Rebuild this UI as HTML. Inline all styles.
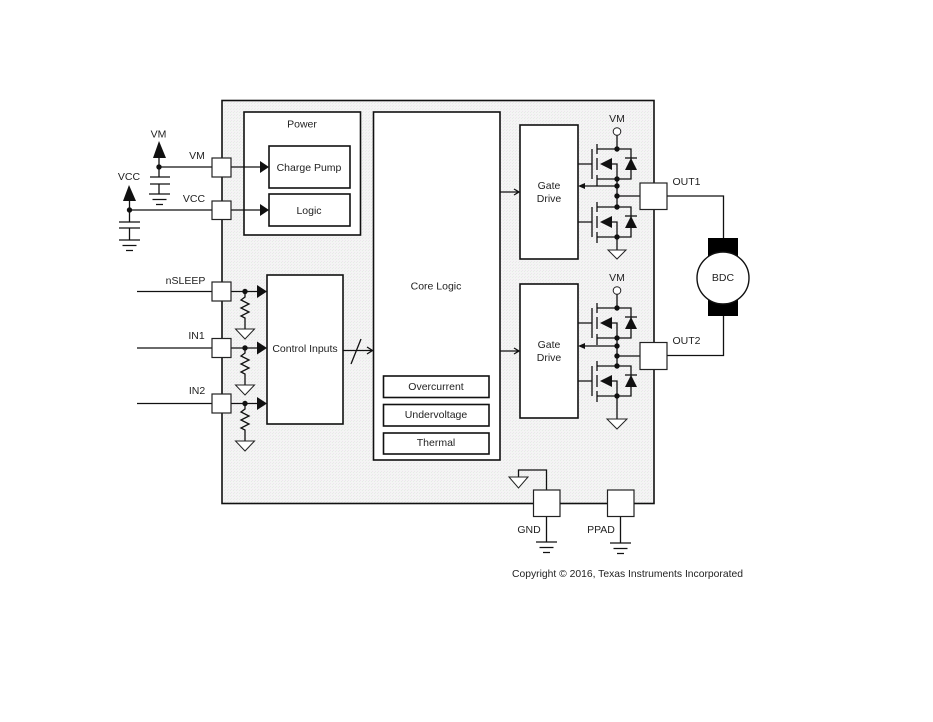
<!DOCTYPE html>
<html><head><meta charset="utf-8"><style>
html,body{margin:0;padding:0;background:#fff}
svg{display:block}
text{font-family:"Liberation Sans",sans-serif;font-size:10.5px;fill:#222;text-anchor:middle}
.l{fill:none;stroke:#111;stroke-width:1.3}
.b{fill:#fff;stroke:#111;stroke-width:1.6}
.p{fill:#fff;stroke:#222;stroke-width:1.2}
.t{fill:#fff;stroke:#222;stroke-width:1}
</style></head><body>
<svg width="933" height="722" viewBox="0 0 933 722" xmlns="http://www.w3.org/2000/svg">
<defs>
<pattern id="d" width="3" height="3" patternUnits="userSpaceOnUse">
<rect width="3" height="3" fill="#f4f4f4"/>
<rect x="0" y="0" width="1" height="1" fill="#ece6ec"/>
<rect x="2" y="1" width="1" height="1" fill="#e6ece6"/>
</pattern>
<g id="gnd"><path class="l" d="M-10.5 0H10.5M-7 5.5H7M-3.5 10.5H3.5"/></g>
<g id="res"><path class="l" d="M0 0V6L-4 9L4 13L-4 17L4 21L-4 25L0 27V38"/><path class="t" d="M-9.5 38H9.5L0 48Z"/></g>
<g id="fet">
<path class="l" d="M578 164H592M592 149V179M597 144V154M597 158V170M597 175V186M597 149H631V179H597M612 164H617V179"/>
<path fill="#111" d="M600 164L612 158V170Z"/>
<path fill="#111" d="M631 158L637 170H625Z"/>
<path class="l" d="M625 158H637"/>
</g>
<g id="fet2">
<path class="l" d="M578 222H592M592 207V237M597 202V212M597 216V228M597 232V243M597 207H631V237H597M612 222H617V237"/>
<path fill="#111" d="M600 222L612 216V228Z"/>
<path fill="#111" d="M631 216L637 228H625Z"/>
<path class="l" d="M625 216H637"/>
</g>
</defs>

<rect x="222" y="100.5" width="432" height="403" fill="url(#d)" stroke="#111" stroke-width="1.6"/>

<!-- Power -->
<rect class="b" x="244" y="112" width="116.500" height="123"/>
<rect class="b" x="269" y="146" width="81" height="42"/>
<rect class="b" x="269" y="194" width="81" height="32"/>
<text x="302" y="127.500">Power</text>
<text x="309" y="171">Charge Pump</text>
<text x="309" y="214">Logic</text>

<!-- VM / VCC inputs -->
<path class="l" d="M159 167H212M231 167H262M231 210H262M129 210H212"/>
<path fill="#111" d="M260 161L269 167L260 173Z"/>
<path fill="#111" d="M260 204L269 210L260 216Z"/>
<path fill="#111" d="M159 141L166 158H153Z"/>
<path fill="#111" d="M129 185L136 201H123Z"/>
<circle cx="159" cy="167" r="2.700" fill="#111"/>
<circle cx="129.500" cy="210" r="2.700" fill="#111"/>
<path class="l" d="M159 158V177M150 177H170M150 184H170M159 184V194"/>
<use href="#gnd" x="159.500" y="194"/>
<path class="l" d="M129.500 201V222M119 222H140M119 228H140M129.500 228V240"/>
<use href="#gnd" x="129.500" y="240"/>
<rect class="p" x="212" y="158" width="19" height="19"/>
<rect class="p" x="212" y="201" width="19" height="18.500"/>
<text x="158.500" y="137.500">VM</text>
<text x="197" y="159">VM</text>
<text x="129" y="180">VCC</text>
<text x="194" y="202">VCC</text>

<!-- Control inputs -->
<rect class="b" x="267" y="275" width="76" height="149"/>
<text x="305" y="352">Control Inputs</text>
<path class="l" d="M137 291.500H212M231 291.500H260M137 348H212M231 348H260M137 403.500H212M231 403.500H260"/>
<path fill="#111" d="M257 285L267 291.500L257 298Z"/>
<path fill="#111" d="M257 341.500L267 348L257 354.500Z"/>
<path fill="#111" d="M257 397L267 403.500L257 410Z"/>
<circle cx="245" cy="291.500" r="2.700" fill="#111"/>
<circle cx="245" cy="348" r="2.700" fill="#111"/>
<circle cx="245" cy="403.500" r="2.700" fill="#111"/>
<use href="#res" x="245" y="291"/>
<use href="#res" x="245" y="347"/>
<use href="#res" x="245" y="403"/>
<rect class="p" x="212" y="282" width="19" height="19"/>
<rect class="p" x="212" y="338.500" width="19" height="19"/>
<rect class="p" x="212" y="394" width="19" height="19"/>
<text x="185.500" y="284">nSLEEP</text>
<text x="196.500" y="339">IN1</text>
<text x="197" y="394">IN2</text>
<path class="l" d="M343 350.500H372M367 347L372.500 350.500L367 354M351 364L361 339"/>

<!-- Core logic -->
<rect class="b" x="373.500" y="112" width="126.500" height="348"/>
<text x="436" y="289.500">Core Logic</text>
<rect class="b" x="383.500" y="376" width="105.500" height="21.500"/>
<rect class="b" x="383.500" y="404.500" width="105.500" height="21.500"/>
<rect class="b" x="383.500" y="433" width="105.500" height="21"/>
<text x="436" y="390">Overcurrent</text>
<text x="436" y="418">Undervoltage</text>
<text x="436" y="446">Thermal</text>

<!-- Gate drive arrows -->
<path class="l" d="M500 192H518.500M514 189L519 192L514 195M500 351H518.500M514 348L519 351L514 354"/>

<!-- Gate Drive 1 -->
<rect class="b" x="520" y="125" width="58" height="134"/>
<text x="549" y="189">Gate</text>
<text x="549" y="202">Drive</text>
<text x="617" y="122">VM</text>
<circle class="t" cx="617" cy="131.500" r="3.800"/>
<path class="l" d="M617 135.500V149M617 179V207M617 237V250M584 186H617M617 196H640"/>
<path fill="#111" d="M578 186L585 183V189Z"/>
<use href="#fet"/><use href="#fet2"/>
<g fill="#111"><circle cx="617" cy="149" r="2.700"/><circle cx="617" cy="179" r="2.700"/><circle cx="617" cy="186" r="2.700"/><circle cx="617" cy="196" r="2.700"/><circle cx="617" cy="207" r="2.700"/><circle cx="617" cy="237" r="2.700"/></g>
<path class="t" d="M608 250H626L617 259Z"/>

<!-- Gate Drive 2 -->
<rect class="b" x="520" y="284" width="58" height="134"/>
<text x="549" y="348">Gate</text>
<text x="549" y="361">Drive</text>
<text x="617" y="281">VM</text>
<circle class="t" cx="617" cy="290.500" r="3.800"/>
<g transform="translate(0,159)">
<path class="l" d="M617 135.500V149M617 179V207M617 237V260M584 187H617M617 197H640"/>
<path fill="#111" d="M578 187L585 184V190Z"/>
<use href="#fet"/><use href="#fet2"/>
<g fill="#111"><circle cx="617" cy="149" r="2.700"/><circle cx="617" cy="179" r="2.700"/><circle cx="617" cy="187" r="2.700"/><circle cx="617" cy="197" r="2.700"/><circle cx="617" cy="207" r="2.700"/><circle cx="617" cy="237" r="2.700"/></g>
</g>
<path class="t" d="M607 419H627L617 429Z"/>

<!-- Motor -->
<path class="l" d="M667 196H723.500V240M723.500 314V355.500H667"/>
<rect x="708" y="238" width="30" height="78" fill="#000"/>
<circle cx="723" cy="278" r="26" fill="#fff" stroke="#111" stroke-width="1.400"/>
<text x="723" y="281">BDC</text>
<rect class="p" x="640" y="183" width="27" height="26.500"/>
<rect class="p" x="640" y="342.500" width="27" height="27"/>
<text x="686.500" y="185">OUT1</text>
<text x="686.500" y="344">OUT2</text>

<!-- Bottom pads -->
<path class="l" d="M546.500 490V470H518.500V478M546.500 517V542M620.500 517V543"/>
<path class="t" d="M509 477H528L518.500 488Z"/>
<rect class="p" x="533.500" y="490" width="26.500" height="26.500"/>
<rect class="p" x="607.500" y="490" width="26.500" height="26.500"/>
<use href="#gnd" x="546.500" y="542"/>
<use href="#gnd" x="620.500" y="543"/>
<text x="529" y="533">GND</text>
<text x="601" y="533">PPAD</text>

<text x="627.500" y="577" textLength="231" lengthAdjust="spacingAndGlyphs">Copyright © 2016, Texas Instruments Incorporated</text>
</svg>
</body></html>
